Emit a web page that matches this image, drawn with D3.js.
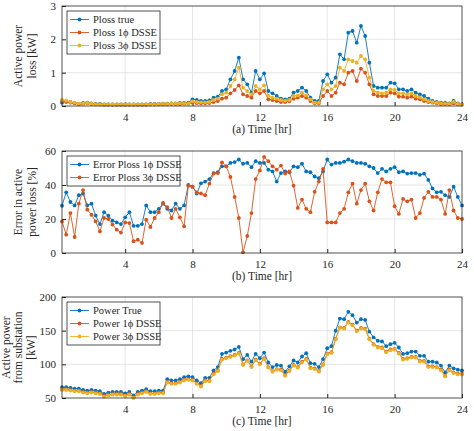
<!DOCTYPE html>
<html><head><meta charset="utf-8">
<script src="https://cdn.jsdelivr.net/npm/d3@7"></script>
<style>body{margin:0;background:#fff}svg,svg text{font-family:"Liberation Serif","Times New Roman",serif !important}</style>
</head><body><svg id="c" width="474" height="431"></svg>
<script>
const xTicks=[4,8,12,16,20,24];
const plossTrue=[0.10,0.14,0.12,0.08,0.06,0.09,0.10,0.08,0.06,0.06,0.05,0.05,0.05,0.05,0.05,0.05,0.05,0.05,0.05,0.05,0.05,0.06,0.06,0.06,0.07,0.07,0.08,0.08,0.09,0.09,0.10,0.20,0.18,0.15,0.15,0.17,0.25,0.28,0.45,0.50,0.80,1.05,1.45,0.80,0.65,0.40,1.05,0.80,0.98,0.45,0.38,0.30,0.22,0.20,0.22,0.40,0.45,0.55,0.45,0.25,0.15,0.15,0.75,0.95,0.70,0.85,1.55,1.40,2.20,2.25,1.90,2.40,2.10,1.30,0.60,0.55,0.55,0.55,0.70,0.68,0.50,0.50,0.45,0.50,0.40,0.35,0.30,0.22,0.15,0.12,0.10,0.10,0.08,0.15,0.08,0.05];
const ploss1=[0.15,0.12,0.10,0.08,0.06,0.07,0.08,0.06,0.05,0.05,0.04,0.04,0.04,0.04,0.04,0.04,0.04,0.04,0.04,0.04,0.04,0.05,0.05,0.05,0.05,0.05,0.06,0.06,0.06,0.07,0.07,0.10,0.09,0.08,0.08,0.09,0.12,0.15,0.22,0.25,0.38,0.48,0.62,0.35,0.30,0.25,0.45,0.38,0.45,0.20,0.18,0.15,0.12,0.12,0.14,0.22,0.25,0.30,0.25,0.15,0.08,0.08,0.30,0.45,0.30,0.40,0.70,0.65,1.00,1.05,0.75,1.12,1.00,0.65,0.35,0.30,0.30,0.30,0.40,0.38,0.28,0.28,0.25,0.28,0.22,0.20,0.15,0.12,0.10,0.08,0.06,0.06,0.05,0.08,0.05,0.04];
const ploss3=[0.18,0.16,0.12,0.10,0.07,0.08,0.09,0.07,0.05,0.05,0.05,0.05,0.05,0.05,0.05,0.05,0.05,0.05,0.05,0.05,0.05,0.05,0.05,0.06,0.06,0.06,0.07,0.07,0.08,0.08,0.08,0.14,0.12,0.11,0.11,0.12,0.18,0.22,0.35,0.40,0.60,0.80,1.15,0.55,0.45,0.35,0.60,0.50,0.62,0.30,0.25,0.22,0.18,0.16,0.18,0.30,0.32,0.40,0.32,0.20,0.10,0.10,0.50,0.65,0.50,0.60,1.15,1.05,1.40,1.35,1.30,1.50,1.40,0.85,0.45,0.40,0.38,0.40,0.50,0.48,0.38,0.38,0.35,0.38,0.30,0.26,0.20,0.15,0.12,0.10,0.08,0.08,0.06,0.12,0.06,0.05];
const err1=[27.8,35.7,30,28,34,35,28,29,22,17,24,22,19,18,17,21,24,16,16,17,28,24,24,26,29,26,25,29,26,28,40,39,35,41,42,43.5,47,47.5,51,51,53,53.5,55,52.5,53,50.5,54,53,53,49,48,42,47,48,47.5,51,50.5,52.5,48,47.5,45,44,48,55,52,53,53,53.7,55,54,53,53,52.5,51,50,47,49.5,48,49.5,50.5,47.5,48,46.7,47,47,46,46.7,43,38,35.7,36,34,33,39,33,28];
const err3=[18.6,10.8,23.5,9.4,29,37,25.5,22.5,18.6,12.7,20.6,20,16.7,13.7,12,18,17.6,6.9,7.8,5.9,19.6,15.3,20.6,24,29.4,27,20.6,26,21,15.7,39.6,39,35.7,35,34,40.8,46.7,47,53.3,51,44.7,33,20.6,0.4,10,23.5,43.5,48.6,56.5,54,51,49,51.4,46.7,48,39.6,26.5,31.4,26,24,36,42,49.4,18,18,18,23.5,26,35.7,40.8,29,37,40.8,30.4,25,35.7,43.5,41.6,41.6,27.5,23,31.8,30.4,31.4,20.6,23.5,32.4,36,33,33,31.4,23,37,25,20.6,20];
const powTrue=[66,66,65,64,64,62,61,62,61,60,56,58,59,59,59,57,59,54,59,61,63,60,60,61,61,78,76,76,78,81,82,81,76,72,80,80,91,96,115.5,117.5,120,122,126,107.6,114,104,115.5,109,117.5,102.7,96,99,98,89,97,105.7,102.7,111.6,116.5,101.7,100.7,96,107.6,124,127,150,168,167,178,173,162,167,166,148.5,140,135,134,127,130,132,125,115.5,116.5,119,119,112.6,112.6,104,104,102.7,98,88,98,94,92,91];
const pow1=[63,63,62,61,61,59,58,59,58,57,53,55,56,56,56,54,56,51,56,58,60,57,57,58,58,74,72,72,74,77,78,77,72,68,76,76,86,91,108,110,112,114,117,100,106,97,107,101,109,96,90,93,92,84,91,99,96,104,108,95,94,90,100,116,118,138,155,154,163,159,150,154,153,138,130,126,125,119,122,123,117,108,109,111,111,105,105,97,97,96,92,83,92,88,86,86];
const pow3=[62,62,61,60,60,58,57,58,57,56,52,54,55,55,55,53,55,50,55,57,59,56,56,57,57,73,71,71,73,76,77,76,71,67,75,75,85,90,107,109,111,113,116,99,105,96,106,100,108,95,89,92,91,83,90,98,95,103,107,94,93,89,99,115,117,137,154,153,162,158,149,153,152,137,129,125,124,118,121,122,116,107,108,110,110,104,104,96,96,95,91,82,91,87,85,85];

const C=["#0072BD","#D95319","#EDB120"];
const svg=d3.select("#c");
const L=62,R=462;
const x=d3.scaleLinear().domain([0.25,24]).range([L,R]);
const panels=[
 {top:6,bot:106,dom:[0,3],ticks:[0,1,2,3],xl:"(a) Time [hr]",yl:["Active power","loss [kW]"],
  series:[[plossTrue,"Ploss true"],[ploss1,"Ploss 1\u03d5 DSSE"],[ploss3,"Ploss 3\u03d5 DSSE"]],cols:[0,1,2],lw:93},
 {top:151,bot:253,dom:[0,60],ticks:[0,20,40,60],xl:"(b) Time [hr]",yl:["Error in active","power loss [%]"],
  series:[[err1,"Error Ploss 1\u03d5 DSSE"],[err3,"Error Ploss 3\u03d5 DSSE"]],cols:[0,1],lw:113},
 {top:297,bot:398,dom:[50,200],ticks:[50,100,150,200],xl:"(c) Time [hr]",yl:["Active power","from substation","[kW]"],
  series:[[powTrue,"Power True"],[pow1,"Power 1\u03d5 DSSE"],[pow3,"Power 3\u03d5 DSSE"]],cols:[0,1,2],lw:93}
];
panels.forEach(p=>{
 const y=d3.scaleLinear().domain(p.dom).range([p.bot,p.top]);
 const g=svg.append("g");
 g.append("rect").attr("x",L).attr("y",p.top).attr("width",R-L).attr("height",p.bot-p.top).attr("fill","#fff");
 g.selectAll(".gx").data(xTicks.slice(0,-1)).join("line").attr("x1",d=>x(d)).attr("x2",d=>x(d)).attr("y1",p.top).attr("y2",p.bot).attr("stroke","#dcdcdc").attr("stroke-width",0.7);
 g.selectAll(".gy").data(p.ticks.slice(1,-1)).join("line").attr("y1",d=>y(d)).attr("y2",d=>y(d)).attr("x1",L).attr("x2",R).attr("stroke","#dcdcdc").attr("stroke-width",0.7);
 const xa=g.append("g").attr("transform",`translate(0,${p.bot})`).call(d3.axisBottom(x).tickValues(xTicks).tickFormat(d3.format("d")).tickSizeInner(-4).tickSizeOuter(0).tickPadding(7));
 const ya=g.append("g").attr("transform",`translate(${L},0)`).call(d3.axisLeft(y).tickValues(p.ticks).tickFormat(d3.format("d")).tickSizeInner(-4).tickSizeOuter(0).tickPadding(6));
 [xa,ya].forEach(a=>{a.attr("font-family",null);a.select(".domain").remove();a.selectAll("line").attr("stroke","#262626");a.selectAll("text").attr("font-size",11).attr("fill","#262626");});
 p.series.forEach((s,k)=>{
  const col=C[p.cols[k]];
  const data=s[0].map((v,i)=>[(i+1)*0.25,v]);
  g.append("path").datum(data).attr("fill","none").attr("stroke",col).attr("stroke-width",0.9)
   .attr("d",d3.line().x(d=>x(d[0])).y(d=>y(d[1])));
  g.selectAll(null).data(data).join("circle").attr("cx",d=>x(d[0])).attr("cy",d=>y(d[1])).attr("r",1.9).attr("fill",col);
 });
 g.append("rect").attr("x",L).attr("y",p.top).attr("width",R-L).attr("height",p.bot-p.top).attr("fill","none").attr("stroke","#262626").attr("stroke-width",0.8);
 g.append("text").attr("x",(L+R)/2).attr("y",p.bot+27).attr("text-anchor","middle").attr("font-size",11.5).attr("fill","#262626").text(p.xl);
 const n=p.yl.length, cy=(p.top+p.bot)/2;
 const xs=n===2?[22,36]:[10,22,35];
 p.yl.forEach((t,j)=>{
  g.append("text").attr("transform",`translate(${xs[j]},${cy}) rotate(-90)`).attr("text-anchor","middle").attr("font-size",11.5).attr("fill","#262626").text(t);
 });
 const lx=L+5, ly=p.top+5, lh=13;
 const lg=g.append("g");
 lg.append("rect").attr("x",lx).attr("y",ly).attr("width",p.lw).attr("height",p.series.length*lh+4).attr("fill","#fff").attr("stroke","#262626").attr("stroke-width",0.8);
 p.series.forEach((s,k)=>{
  const col=C[p.cols[k]], yy=ly+2+lh*k+lh/2;
  lg.append("line").attr("x1",lx+3).attr("x2",lx+22).attr("y1",yy).attr("y2",yy).attr("stroke",col).attr("stroke-width",0.9);
  lg.append("circle").attr("cx",lx+12.5).attr("cy",yy).attr("r",1.9).attr("fill",col);
  lg.append("text").attr("x",lx+26).attr("y",yy+3.8).attr("font-size",10.5).attr("fill","#262626").text(s[1]);
 });
});
</script></body></html>
